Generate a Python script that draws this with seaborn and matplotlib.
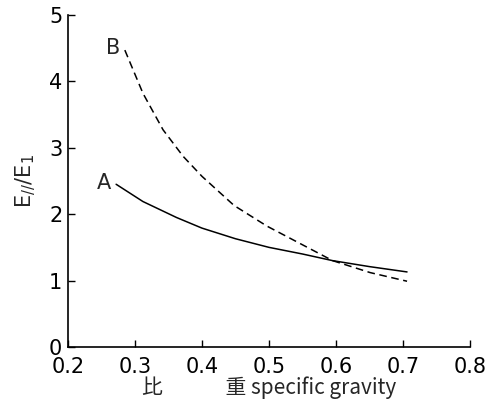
import numpy as np
import pandas as pd
import matplotlib
matplotlib.use("Agg")
import matplotlib.pyplot as plt
import seaborn as sns

# data
a_x = [0.272, 0.312, 0.362, 0.40, 0.45, 0.50, 0.55, 0.595, 0.65, 0.706]
a_y = [2.45, 2.19, 1.95, 1.79, 1.63, 1.50, 1.40, 1.30, 1.21, 1.13]
b_x = [0.285, 0.312, 0.342, 0.372, 0.40, 0.448, 0.497, 0.546, 0.595, 0.651, 0.706]
b_y = [4.47, 3.82, 3.27, 2.87, 2.57, 2.13, 1.82, 1.56, 1.30, 1.12, 0.99]
x_ticks = [0.2, 0.3, 0.4, 0.5, 0.6, 0.7, 0.8]
y_ticks = [0, 1, 2, 3, 4, 5]

df = pd.DataFrame({
    "x": a_x + b_x,
    "y": a_y + b_y,
    "curve": ["A"] * len(a_x) + ["B"] * len(b_x),
})

sns.set_style("ticks")
plt.rcParams["font.family"] = ["DejaVu Sans", "Noto Sans CJK JP"]

fig = plt.figure(figsize=(4.99, 4.03), dpi=100)
ax = fig.add_axes([0.136, 0.139, 0.806, 0.824])
sns.lineplot(data=df, x="x", y="y", style="curve", color="black",
             dashes={"A": "", "B": (5, 3)}, linewidth=1.1, legend=False,
             sort=False, estimator=None, ax=ax)

ax.set_xlim(0.2, 0.8)
ax.set_ylim(0, 5)
ax.set_xticks(x_ticks)
ax.set_yticks(y_ticks)
ax.set_xticklabels([f"{v:.1f}" for v in x_ticks])
ax.set_yticklabels([str(v) for v in y_ticks])
ax.tick_params(direction="in", length=5, width=1, labelsize=15, colors="black")
ax.tick_params(axis="x", pad=7)
ax.tick_params(axis="y", pad=4)
for s in ["top", "right"]:
    ax.spines[s].set_visible(False)
for s in ["left", "bottom"]:
    ax.spines[s].set_linewidth(1.2)
    ax.spines[s].set_color("black")

ax.set_xlabel("比　　　重 specific gravity", fontsize=15,
              family=["Noto Sans CJK JP", "DejaVu Sans"], labelpad=0)
ax.set_ylabel(r"E$_{//}$/E$_1$", fontsize=15, labelpad=8)

ax.text(0.254, 2.47, "A", fontsize=15, ha="center", va="center")
ax.text(0.268, 4.5, "B", fontsize=15, ha="center", va="center")

fig.savefig("out.png", dpi=100, facecolor="white")
